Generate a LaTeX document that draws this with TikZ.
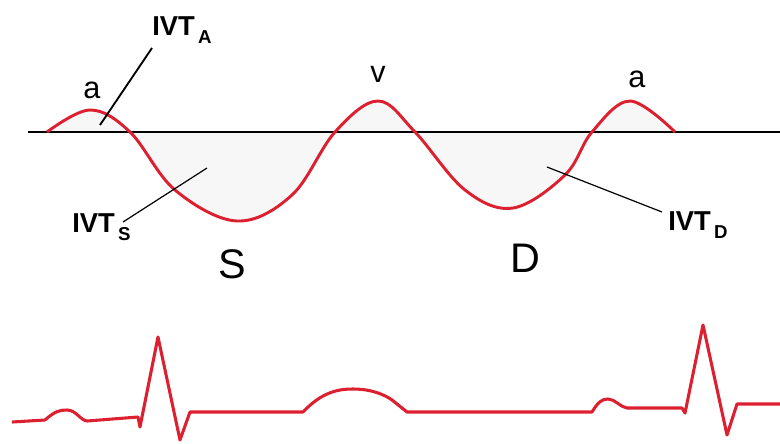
\documentclass[tikz,border=0pt]{standalone}
\usepackage{fontspec}
\setmainfont{Liberation Sans}
\usepackage{xcolor}
\usetikzlibrary{positioning,calc}
\definecolor{tracered}{RGB}{220,32,48}
\tikzset{
  wave/.style={draw=tracered,line width=2.2pt,line join=round},
  ecg/.style={draw=tracered,line width=2.3pt,line join=round},
  axis/.style={draw=black,line width=2.2pt},
  lead/.style={draw=black,line width=0.9pt},
  peak/.style={font=\fontsize{23}{25}\selectfont,anchor=base,inner sep=0pt},
  phase/.style={font=\fontsize{31}{34}\selectfont,anchor=base,inner sep=0pt},
  ivt/.style={font=\fontsize{20.5}{22}\selectfont\bfseries,anchor=base west,inner sep=0pt}
}
\newcommand{\ivtsub}[1]{IVT\kern2.5pt\raisebox{-6pt}{\fontsize{14}{14}\selectfont\bfseries #1}}

\begin{document}
\begin{tikzpicture}[x=0.75pt,y=-0.75pt]
  \useasboundingbox (0,0) rectangle (780,443);
  % velocity trace: a, S, v, D, a
  \coordinate (b0) at (28,132);
  \coordinate (b1) at (780,132);
  \fill[black!3] plot[smooth,tension=0.6] coordinates {(47,132) (90,110) (130,132) (175,190) (237,221)
      (292,195) (335,132) (378,101) (415,132) (465,190) (513,208) (565,175) (592,132) (630,101) (675,132)} -- cycle;
  \draw[axis] (b0) -- (b1);
  \draw[wave] plot[smooth,tension=0.6] coordinates {(47,132) (90,110) (130,132) (175,190) (237,221)
      (292,195) (335,132) (378,101) (415,132) (465,190) (513,208) (565,175) (592,132) (630,101) (675,132)};

  \node[peak] (pa1) at (92,98) {a};
  \node[peak] (pv) at (378,82) {v};
  \node[peak] (pa2) at (637,87) {a};
  \node[phase] (ps) at (232,278) {S};
  \node[phase] (pd) at (525,272) {D};

  % integrals and their leaders
  \node[ivt] (ivta) at (152,35) {\ivtsub{A}};
  \node[ivt] (ivts) at (72,232) {\ivtsub{S}};
  \node[ivt] (ivtd) at (668,230) {\ivtsub{D}};
  \coordinate (ta1) at (152,48);
  \coordinate (ta2) at (100,125);
  \coordinate (ts1) at (123,222);
  \coordinate (ts2) at (207,168);
  \coordinate (td1) at (547,167);
  \coordinate (td2) at (662,212);
  \draw[lead,line width=1.4pt] (ta1) -- (ta2);
  \draw[lead] (ts1) -- (ts2);
  \draw[lead] (td1) -- (td2);

  % ECG strip
  \draw[ecg] (12,422) -- (45,420) .. controls (55,411) and (60,410) .. (67,410)
    .. controls (76,410) and (80,420) .. (87,421) -- (138,417) -- (140,427) -- (158,337)
    -- (180,440) -- (190,412) -- (303,412) .. controls (322,392) and (338,389) .. (353,389)
    .. controls (372,389) and (385,395) .. (392,400) -- (407,412) -- (592,412)
    .. controls (598,402) and (602,399) .. (608,399) .. controls (615,399) and (620,407) .. (627,408)
    -- (682,408) -- (685,413) -- (703,325) -- (727,435) -- (737,404) -- (780,404);
\end{tikzpicture}
\end{document}
